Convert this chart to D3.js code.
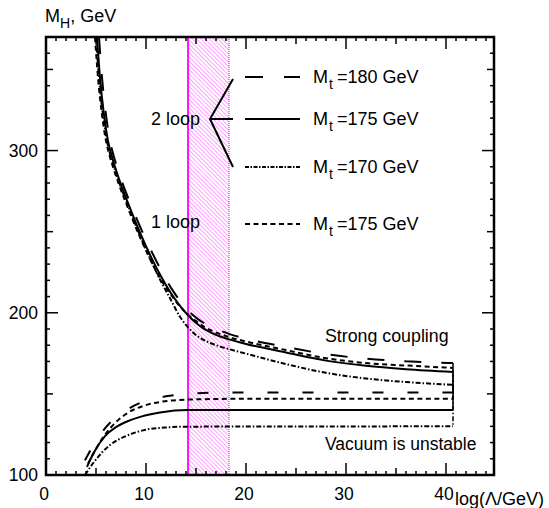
<!DOCTYPE html>
<html>
<head>
<meta charset="utf-8">
<script src="https://cdn.jsdelivr.net/npm/d3@7"></script>
<style>
  body { margin: 0; background: #fff; }
  svg text { font-family: "Liberation Sans", Arial, sans-serif; fill: #000; }
</style>
</head>
<body>
<div id="chart"></div>
<script>
// upper (strong coupling) bounds, [log(Lambda/GeV), M_H]
const upper180 = [[5.3,370],[5.6,345],[6.0,322],[6.4,306],[6.8,296],[7.2,288],[7.7,279],[8.7,263.5],[9.7,249],[10.7,236],[11.7,224],[12.7,213.5],[13.7,205],[14.2,201.5],[14.9,197.6],[15.7,194],[16.5,191.3],[17.5,188.8],[18.3,187],[20,184],[24,179],[28,174.5],[32,171.7],[36,170.1],[40.7,169]];
const upper175 = [[5.1,370],[5.4,345],[5.8,322],[6.2,306],[6.6,296],[7,288],[7.5,279],[8.5,263],[9.5,248],[10.5,234.5],[11.5,222.5],[12.5,212],[13.5,203.5],[14.2,198.5],[14.9,194.3],[15.7,190.5],[16.5,187.8],[17.5,185.2],[18.3,183.6],[20,180.8],[24,175.5],[28,170.5],[32,167.3],[36,165.2],[40.7,163.5]];
const upper170 = [[5.0,370],[5.3,345],[5.7,322],[6.1,306],[6.5,296],[6.9,288],[7.4,279],[8.4,263],[9.4,247.5],[10.4,233.5],[11.4,220.5],[12.4,209],[13.4,197.5],[14.2,191],[14.9,186.8],[15.7,183.5],[16.5,181.2],[17.5,179],[18.3,177.6],[20,174.8],[24,168.4],[28,163],[32,159.5],[36,157.3],[40.7,155.6]];
const upper175oneLoop = [[4.9,370],[5.2,345],[5.6,322],[6.0,306],[6.4,296],[6.8,288],[7.3,279],[8.3,263],[9.3,248],[10.3,234.5],[11.3,222.5],[12.4,212],[13.4,203.8],[14.2,199],[14.9,195.3],[15.7,191.8],[16.5,189.2],[17.5,186.7],[18.3,185],[20,182.3],[24,177],[28,172],[32,169],[36,167.5],[40.7,166]];

// lower (vacuum stability) bounds
const lower180 = [[3.9,109],[4.7,118],[5.8,128],[6.9,135],[8.3,141],[10.1,146],[12,148.5],[14.1,150],[18,150.8],[40.7,150.8]];
const lower175 = [[4.1,105],[4.8,114],[5.9,124],[7,129.5],[8.1,133],[9.5,136],[11.4,138.5],[14.2,140],[20,140],[40.7,140]];
const lower170 = [[3.9,100],[4.8,108],[6.4,118.5],[8,124],[9.7,127.5],[12,129.3],[14.2,129.8],[40.7,130]];
const lower175oneLoop = [[4.2,107],[4.9,115],[5.8,124],[6.9,132],[8.1,138],[9.7,142.5],[11.4,145],[14.2,146.5],[20,147],[40.7,147]];

const legendLabels = ["=180 GeV", "=175 GeV", "=170 GeV", "=175 GeV"];
const xTickLabels = [0, 10, 20, 30, 40];
const yTickLabels = [100, 200, 300];
const bandRange = [14.2, 18.3];

const width = 549, height = 508;
const svg = d3.select("#chart").append("svg")
  .attr("width", width)
  .attr("height", height);

const x = d3.scaleLinear().domain([0, 44.8]).range([46, 494]);
const y = d3.scaleLinear().domain([100, 370]).range([475, 37]);

// hatch pattern for the band
const defs = svg.append("defs");
const pat = defs.append("pattern")
  .attr("id", "hatch")
  .attr("patternUnits", "userSpaceOnUse")
  .attr("width", 3).attr("height", 3)
  .attr("patternTransform", "rotate(-45)");
pat.append("line")
  .attr("x1", 0).attr("y1", 0).attr("x2", 0).attr("y2", 3)
  .attr("stroke", "#ff00ff").attr("stroke-width", 0.9).attr("opacity", 0.8);

svg.append("rect")
  .attr("x", x(bandRange[0]))
  .attr("y", y(370))
  .attr("width", x(bandRange[1]) - x(bandRange[0]))
  .attr("height", y(100) - y(370))
  .attr("fill", "url(#hatch)");
svg.append("line")
  .attr("x1", x(bandRange[0])).attr("x2", x(bandRange[0]))
  .attr("y1", y(370)).attr("y2", y(100))
  .attr("stroke", "#ff00ff").attr("stroke-width", 1.8);
svg.append("line")
  .attr("x1", x(bandRange[1])).attr("x2", x(bandRange[1]))
  .attr("y1", y(370)).attr("y2", y(100))
  .attr("stroke", "#ff00ff").attr("stroke-width", 1).attr("stroke-dasharray", "1,1");

// curves: Mt=180, 175, 170 (2 loop) and 175 (1 loop)
const styles = [
  { up: upper180, low: lower180, dashUp: "17,20", dashLow: "11,24", legend: "18,21" },
  { up: upper175, low: lower175, dashUp: null, dashLow: null, legend: null },
  { up: upper170, low: lower170, dashUp: "5,2,1.5,2", dashLow: "5,2,1.5,2", legend: "4,1.5,1.5,1.5" },
  { up: upper175oneLoop, low: lower175oneLoop, dashUp: "5,3.5", dashLow: "5,3.5", legend: "5,3.5" }
];

const line = d3.line()
  .x((d) => x(d[0]))
  .y((d) => y(d[1]))
  .curve(d3.curveMonotoneX);

const plot = svg.append("g");
styles.forEach((s) => {
  plot.append("path")
    .attr("d", line(s.up))
    .attr("fill", "none").attr("stroke", "#000").attr("stroke-width", 2)
    .attr("stroke-dasharray", s.dashUp);
  plot.append("path")
    .attr("d", line(s.low))
    .attr("fill", "none").attr("stroke", "#000").attr("stroke-width", 2)
    .attr("stroke-dasharray", s.dashLow);
  // closing vertical at the right end
  const a = s.up[s.up.length - 1], b = s.low[s.low.length - 1];
  plot.append("line")
    .attr("x1", x(a[0])).attr("x2", x(b[0]))
    .attr("y1", y(a[1])).attr("y2", y(b[1]))
    .attr("stroke", "#000").attr("stroke-width", 1.5)
    .attr("stroke-dasharray", s.dashUp ? "5,2,1.5,2" : null);
});

// frame and ticks
svg.append("rect")
  .attr("x", x(0)).attr("y", y(370))
  .attr("width", x(44.8) - x(0)).attr("height", y(100) - y(370))
  .attr("fill", "none").attr("stroke", "#000").attr("stroke-width", 2.5);

const tickLen = (v, major, mid) => (v % major === 0 ? 12 : v % mid === 0 ? 7 : 4);
const ticks = svg.append("g").attr("stroke", "#000").attr("stroke-width", 1.5);
d3.range(1, 45).forEach((v) => {
  const L = tickLen(v, 10, 5);
  ticks.append("line").attr("x1", x(v)).attr("x2", x(v)).attr("y1", y(100)).attr("y2", y(100) - L);
  ticks.append("line").attr("x1", x(v)).attr("x2", x(v)).attr("y1", y(370)).attr("y2", y(370) + L);
});
d3.range(110, 370, 10).forEach((v) => {
  const L = tickLen(v, 100, 50);
  ticks.append("line").attr("y1", y(v)).attr("y2", y(v)).attr("x1", x(0)).attr("x2", x(0) + L);
  ticks.append("line").attr("y1", y(v)).attr("y2", y(v)).attr("x1", x(44.8)).attr("x2", x(44.8) - L);
});

svg.selectAll("text.xt").data(xTickLabels).enter().append("text")
  .attr("class", "xt")
  .attr("x", (d) => x(d) - 2).attr("y", 500)
  .attr("text-anchor", "middle").attr("font-size", 17.5)
  .text((d) => d);
svg.selectAll("text.yt").data(yTickLabels).enter().append("text")
  .attr("class", "yt")
  .attr("x", 38).attr("y", (d) => y(d) + 6)
  .attr("text-anchor", "end").attr("font-size", 17.5)
  .text((d) => d);

// axis titles
const yt = svg.append("text").attr("x", 45).attr("y", 22).attr("font-size", 18);
yt.append("tspan").text("M");
yt.append("tspan").attr("font-size", 14).attr("dy", 6).text("H");
yt.append("tspan").attr("dy", -6).text(", GeV");

svg.append("text").attr("x", 455).attr("y", 505).attr("font-size", 18).text("log(\u039B/GeV)");

// legend
const legY = [77, 119, 167, 224];
styles.forEach((s, i) => {
  svg.append("line")
    .attr("x1", 245).attr("x2", 300)
    .attr("y1", legY[i]).attr("y2", legY[i])
    .attr("stroke", "#000").attr("stroke-width", 2)
    .attr("stroke-dasharray", s.legend);
  const t = svg.append("text").attr("x", 313).attr("y", legY[i] + 6).attr("font-size", 18);
  t.append("tspan").text("M");
  t.append("tspan").attr("font-size", 14).attr("dy", 6).attr("dx", 1).text("t");
  t.append("tspan").attr("dy", -6).attr("dx", 4).text(legendLabels[i]);
});

// brace for 2 loop
svg.append("path")
  .attr("d", "M233,79 L210,119 L233,167 M210,119 L233,119")
  .attr("fill", "none").attr("stroke", "#000").attr("stroke-width", 2);

svg.append("text").attr("x", 200).attr("y", 125).attr("text-anchor", "end").attr("font-size", 18).text("2 loop");
svg.append("text").attr("x", 200).attr("y", 228).attr("text-anchor", "end").attr("font-size", 18).text("1 loop");
svg.append("text").attr("x", 325).attr("y", 342).attr("font-size", 17.8).text("Strong coupling");
svg.append("text").attr("x", 325).attr("y", 450).attr("font-size", 17.5).text("Vacuum is unstable");
</script>
</body>
</html>
